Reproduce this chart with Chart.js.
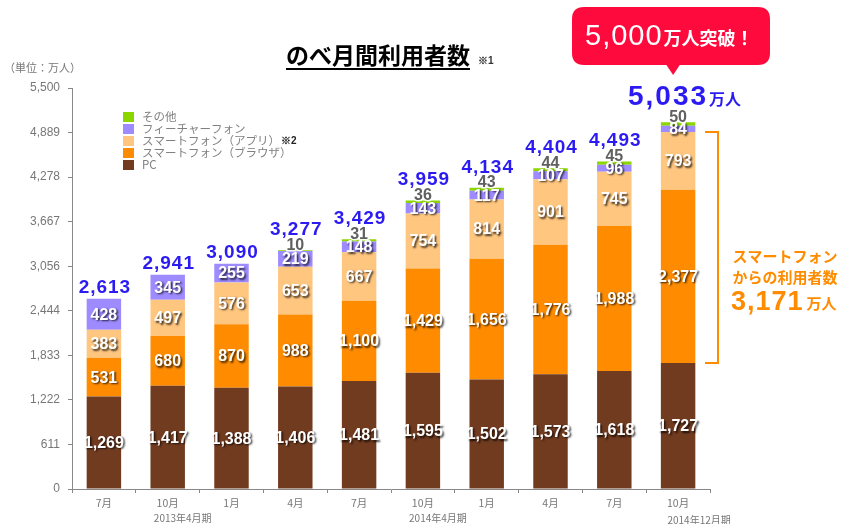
<!DOCTYPE html>
<html lang="ja">
<head>
<meta charset="utf-8">
<script src="https://cdn.jsdelivr.net/npm/chart.js@4.4.1/dist/chart.umd.min.js"></script>
<style>
  html, body { margin: 0; padding: 0; background: #fff; }
  #wrap { width: 852px; height: 524px; }
</style>
</head>
<body>
<div id="wrap"><canvas id="chart" width="852" height="524"></canvas></div>
<script>
// データ（単位：万人）
const months = ['7月', '10月', '1月', '4月', '7月', '10月', '1月', '4月', '7月', '10月'];
const pcUsers = [1269, 1417, 1388, 1406, 1481, 1595, 1502, 1573, 1618, 1727];
const spBrowser = [531, 680, 870, 988, 1100, 1429, 1656, 1776, 1988, 2377];
const spApp = [383, 497, 576, 653, 667, 754, 814, 901, 745, 793];
const featurePhone = [428, 345, 255, 219, 148, 143, 117, 107, 96, 84];
const others = [0, 0, 0, 10, 31, 36, 43, 44, 45, 50];
const totals = [2613, 2941, 3090, 3277, 3429, 3959, 4134, 4404, 4493, 5033];
const yTicks = [0, 611, 1222, 1833, 2444, 3056, 3667, 4278, 4889, 5500];
const periods = [
    { label: '2013年4月期', at: 1, dx: 15, y: 522 },
    { label: '2014年4月期', at: 5, dx: 15, y: 522 },
    { label: '2014年12月期', at: 9, dx: 21, y: 524 }
];

const JP = '"Noto Sans CJK JP", "Noto Sans", sans-serif';
const NUM = '"Liberation Sans", Arial, sans-serif';

// 白文字＋影
function shadowText(ctx, txt, x, y) {
    ctx.save();
    ctx.shadowColor = 'rgba(0,0,0,0.75)';
    ctx.shadowOffsetX = 1.5;
    ctx.shadowOffsetY = 1.5;
    ctx.shadowBlur = 2;
    ctx.fillStyle = '#fff';
    ctx.fillText(txt, x, y);
    ctx.restore();
}

function roundRect(ctx, x, y, w, h, r) {
    ctx.beginPath();
    ctx.moveTo(x + r, y);
    ctx.lineTo(x + w - r, y);
    ctx.quadraticCurveTo(x + w, y, x + w, y + r);
    ctx.lineTo(x + w, y + h - r);
    ctx.quadraticCurveTo(x + w, y + h, x + w - r, y + h);
    ctx.lineTo(x + r, y + h);
    ctx.quadraticCurveTo(x, y + h, x, y + h - r);
    ctx.lineTo(x, y + r);
    ctx.quadraticCurveTo(x, y, x + r, y);
    ctx.closePath();
}

const labelsPlugin = {
    id: 'labels',
    afterDatasetsDraw(chart) {
        const ctx = chart.ctx;
        const n = chart.data.datasets.length;
        ctx.save();
        ctx.textAlign = 'center';
        ctx.textBaseline = 'middle';

        // 各セグメントの数値
        for (let d = 0; d < n - 1; d++) {
            const meta = chart.getDatasetMeta(d);
            ctx.font = 'bold 16px ' + NUM;
            meta.data.forEach((bar, i) => {
                const v = chart.data.datasets[d].data[i];
                const y = (bar.y + bar.base) / 2;
                shadowText(ctx, v.toLocaleString('en-US'), bar.x, y + 1);
            });
        }

        // その他（グレー）と合計（青）
        const otherMeta = chart.getDatasetMeta(n - 1);
        otherMeta.data.forEach((bar, i) => {
            const v = others[i];
            const top = bar.y;
            let totalY = top - 6;
            if (v > 0) {
                ctx.font = 'bold 16px ' + NUM;
                ctx.textBaseline = 'middle';
                ctx.lineWidth = 3;
                ctx.strokeStyle = 'rgba(255,255,255,0.9)';
                ctx.strokeText(String(v), bar.x, top - 5);
                ctx.fillStyle = '#606060';
                ctx.fillText(String(v), bar.x, top - 5);
                totalY = top - 15;
            }
            ctx.textBaseline = 'alphabetic';
            ctx.fillStyle = '#2B1BF2';
            if (i === totals.length - 1) {
                const big = totals[i].toLocaleString('en-US');
                ctx.letterSpacing = '2px';
                ctx.font = 'bold 28px ' + NUM;
                const w1 = ctx.measureText(big).width;
                const x0 = 628;
                ctx.textAlign = 'left';
                ctx.fillText(big, x0, top - 17);
                ctx.letterSpacing = '0px';
                ctx.font = 'bold 16px ' + JP;
                ctx.fillText('万人', x0 + w1 + 1, top - 17);
                ctx.textAlign = 'center';
            } else {
                ctx.font = 'bold 19px ' + NUM;
                ctx.letterSpacing = '1px';
                ctx.fillText(totals[i].toLocaleString('en-US'), bar.x + 1, totalY);
                ctx.letterSpacing = '0px';
            }
        });
        ctx.restore();
    },
    afterDraw(chart) {
        const ctx = chart.ctx;
        const x = chart.scales.x;
        const y = chart.scales.y;
        ctx.save();

        // タイトル
        ctx.fillStyle = '#000';
        ctx.font = 'bold 23px ' + JP;
        ctx.textAlign = 'left';
        ctx.textBaseline = 'alphabetic';
        const title = 'のべ月間利用者数';
        const tw = ctx.measureText(title).width;
        const tx = 286;
        ctx.fillText(title, tx, 64);
        ctx.fillRect(tx, 68, tw, 2);
        ctx.font = 'bold 10px ' + NUM;
        ctx.fillStyle = '#333';
        ctx.fillText('※1', tx + tw + 8, 64);

        // 単位
        ctx.fillStyle = '#777';
        ctx.font = '11px ' + JP;
        ctx.fillText('（単位：万人）', 4, 72);

        // 凡例（上から逆順）
        const ds = chart.data.datasets;
        let ly = 112;
        for (let d = ds.length - 1; d >= 0; d--) {
            ctx.fillStyle = ds[d].backgroundColor;
            ctx.fillRect(123, ly, 11, 10);
            ctx.fillStyle = '#808080';
            ctx.font = '11.5px ' + JP;
            ctx.textBaseline = 'middle';
            ctx.fillText(ds[d].label, 142, ly + 5);
            if (d === 2) {
                const lw = ctx.measureText(ds[d].label).width;
                ctx.fillStyle = '#222';
                ctx.font = 'bold 10px ' + NUM;
                ctx.fillText('※2', 142 + lw + 1, ly + 5);
            }
            ly += 12;
        }

        // 期のラベル
        ctx.fillStyle = '#777';
        ctx.font = '10px ' + JP;
        ctx.textAlign = 'center';
        ctx.textBaseline = 'alphabetic';
        periods.forEach(p => {
            ctx.fillText(p.label, x.getPixelForValue(p.at) + p.dx, p.y);
        });

        // 吹き出し
        const last = totals.length - 1;
        const bx = x.getPixelForValue(last) - 5;
        ctx.fillStyle = '#FF0A3C';
        roundRect(ctx, 572, 7, 198, 58, 12);
        ctx.fill();
        ctx.beginPath();
        ctx.moveTo(bx - 8, 63);
        ctx.lineTo(bx, 75);
        ctx.lineTo(bx + 8, 63);
        ctx.closePath();
        ctx.fill();
        ctx.fillStyle = '#fff';
        ctx.textAlign = 'left';
        ctx.letterSpacing = '1px';
        ctx.font = '29px ' + NUM;
        ctx.fillText('5,000', 585, 45);
        const w5 = ctx.measureText('5,000').width;
        ctx.letterSpacing = '0px';
        ctx.font = 'bold 18px ' + JP;
        ctx.fillText('万人突破！', 585 + w5 + 1, 45);

        // スマートフォンの括弧
        const sTop = y.getPixelForValue(pcUsers[last] + spBrowser[last] + spApp[last]);
        const sBot = y.getPixelForValue(pcUsers[last]);
        ctx.strokeStyle = '#FF8C00';
        ctx.lineWidth = 2;
        ctx.beginPath();
        ctx.moveTo(705, sTop);
        ctx.lineTo(718, sTop);
        ctx.lineTo(718, sBot);
        ctx.lineTo(705, sBot);
        ctx.stroke();

        ctx.fillStyle = '#FF8C00';
        ctx.textAlign = 'center';
        ctx.font = 'bold 15px ' + JP;
        ctx.fillText('スマートフォン', 785, 262);
        ctx.fillText('からの利用者数', 785, 283);
        ctx.textAlign = 'left';
        ctx.letterSpacing = '1px';
        ctx.font = 'bold 27px ' + NUM;
        ctx.fillText('3,171', 731, 310);
        const w3 = ctx.measureText('3,171').width;
        ctx.letterSpacing = '0px';
        ctx.font = 'bold 15px ' + JP;
        ctx.fillText('万人', 731 + w3 + 3, 309);
        ctx.restore();
    }
};

const ctx = document.getElementById('chart').getContext('2d');
const chart = new Chart(ctx, {
    type: 'bar',
    data: {
        labels: months,
        datasets: [
            { label: 'PC', data: pcUsers, backgroundColor: '#713B20' },
            { label: 'スマートフォン（ブラウザ）', data: spBrowser, backgroundColor: '#FF8C00' },
            { label: 'スマートフォン（アプリ）', data: spApp, backgroundColor: '#FFC67F' },
            { label: 'フィーチャーフォン', data: featurePhone, backgroundColor: '#9D8BFF' },
            { label: 'その他', data: others, backgroundColor: '#8CD600' }
        ]
    },
    options: {
        responsive: false,
        animation: false,
        devicePixelRatio: 1,
        layout: { padding: { left: 0, top: 88, right: 142, bottom: 0 } },
        datasets: { bar: { categoryPercentage: 1.0, barPercentage: 0.54, borderWidth: 0 } },
        plugins: { legend: { display: false }, tooltip: { enabled: false } },
        scales: {
            x: {
                stacked: true,
                afterFit(scale) { scale.height = 35; },
                border: { color: '#888', width: 1 },
                grid: { offset: true, drawOnChartArea: false, drawTicks: true, tickLength: 4, color: '#888' },
                ticks: { color: '#777', font: { family: JP, size: 10.5 }, padding: 4 }
            },
            y: {
                stacked: true,
                min: 0,
                max: 5500,
                afterFit(scale) { scale.width = 72; },
                afterBuildTicks(scale) { scale.ticks = yTicks.map(v => ({ value: v })); },
                border: { color: '#888', width: 1 },
                grid: { drawOnChartArea: false, drawTicks: true, tickLength: 4, color: '#888' },
                ticks: {
                    color: '#777',
                    font: { family: NUM, size: 12 },
                    padding: 8,
                    callback: v => v.toLocaleString('en-US')
                }
            }
        }
    },
    plugins: [labelsPlugin]
});
</script>
</body>
</html>
